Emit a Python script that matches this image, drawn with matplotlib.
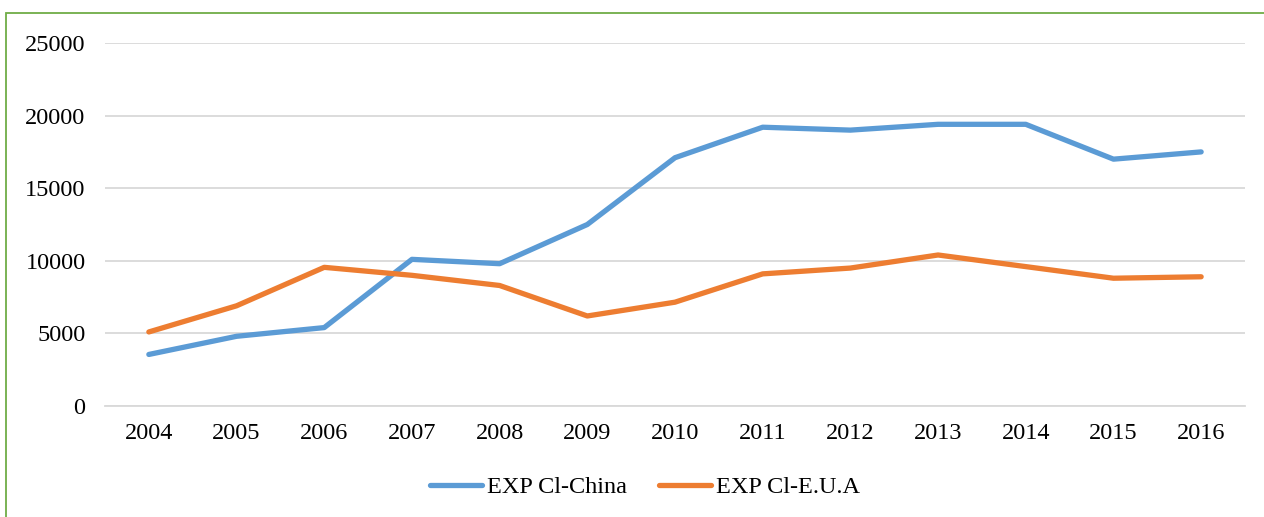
import matplotlib.pyplot as plt
from matplotlib.patches import Rectangle

years = [2004, 2005, 2006, 2007, 2008, 2009, 2010, 2011, 2012, 2013, 2014, 2015, 2016]
china = [3550, 4800, 5400, 10100, 9800, 12500, 17100, 19200, 19000, 19400, 19400, 17000, 17500]
eua = [5100, 6900, 9550, 9000, 8300, 6200, 7150, 9100, 9500, 10400, 9600, 8800, 8900]
yticks = [0, 5000, 10000, 15000, 20000, 25000]

plt.rcParams["font.family"] = ["Liberation Serif", "DejaVu Serif"]

fig = plt.figure(figsize=(12.64, 5.17), dpi=100)
ax = fig.add_axes([105 / 1264, 1 - 406 / 517, (1245 - 105) / 1264, (406 - 43) / 517])

x = list(range(len(years)))
ax.plot(x, china, color="#5B9BD5", lw=3.8, solid_capstyle="round", solid_joinstyle="round",
        label="EXP Cl-China")
ax.plot(x, eua, color="#ED7D31", lw=3.8, solid_capstyle="round", solid_joinstyle="round",
        label="EXP Cl-E.U.A")

ax.set_xlim(-0.5, len(years) - 0.5)
ax.set_ylim(0, 25000)
ax.set_yticks(yticks)
ax.set_xticks(x)
ax.set_xticklabels([str(y) for y in years])
ax.grid(axis="y", color="#D9D9D9", lw=1.3)
ax.set_axisbelow(True)
for s in ("top", "right", "left"):
    ax.spines[s].set_visible(False)
ax.spines["bottom"].set_color("#D9D9D9")
ax.spines["bottom"].set_linewidth(1.3)
ax.tick_params(length=0, labelsize=17.5, colors="black", pad=12)
ax.tick_params(axis="y", pad=14)

fig.legend(loc="center", bbox_to_anchor=(645 / 1264, 1 - 487 / 517), ncol=2, frameon=False,
           fontsize=17.5, handlelength=2.15, handletextpad=0.2, columnspacing=1.3)

fig.patches.append(Rectangle((6 / 1264, -0.1), 1.2, 1 - 13 / 517 + 0.1, transform=fig.transFigure,
                             fill=False, edgecolor="#70AD47", lw=1.3))

fig.savefig("out.png", dpi=100)
